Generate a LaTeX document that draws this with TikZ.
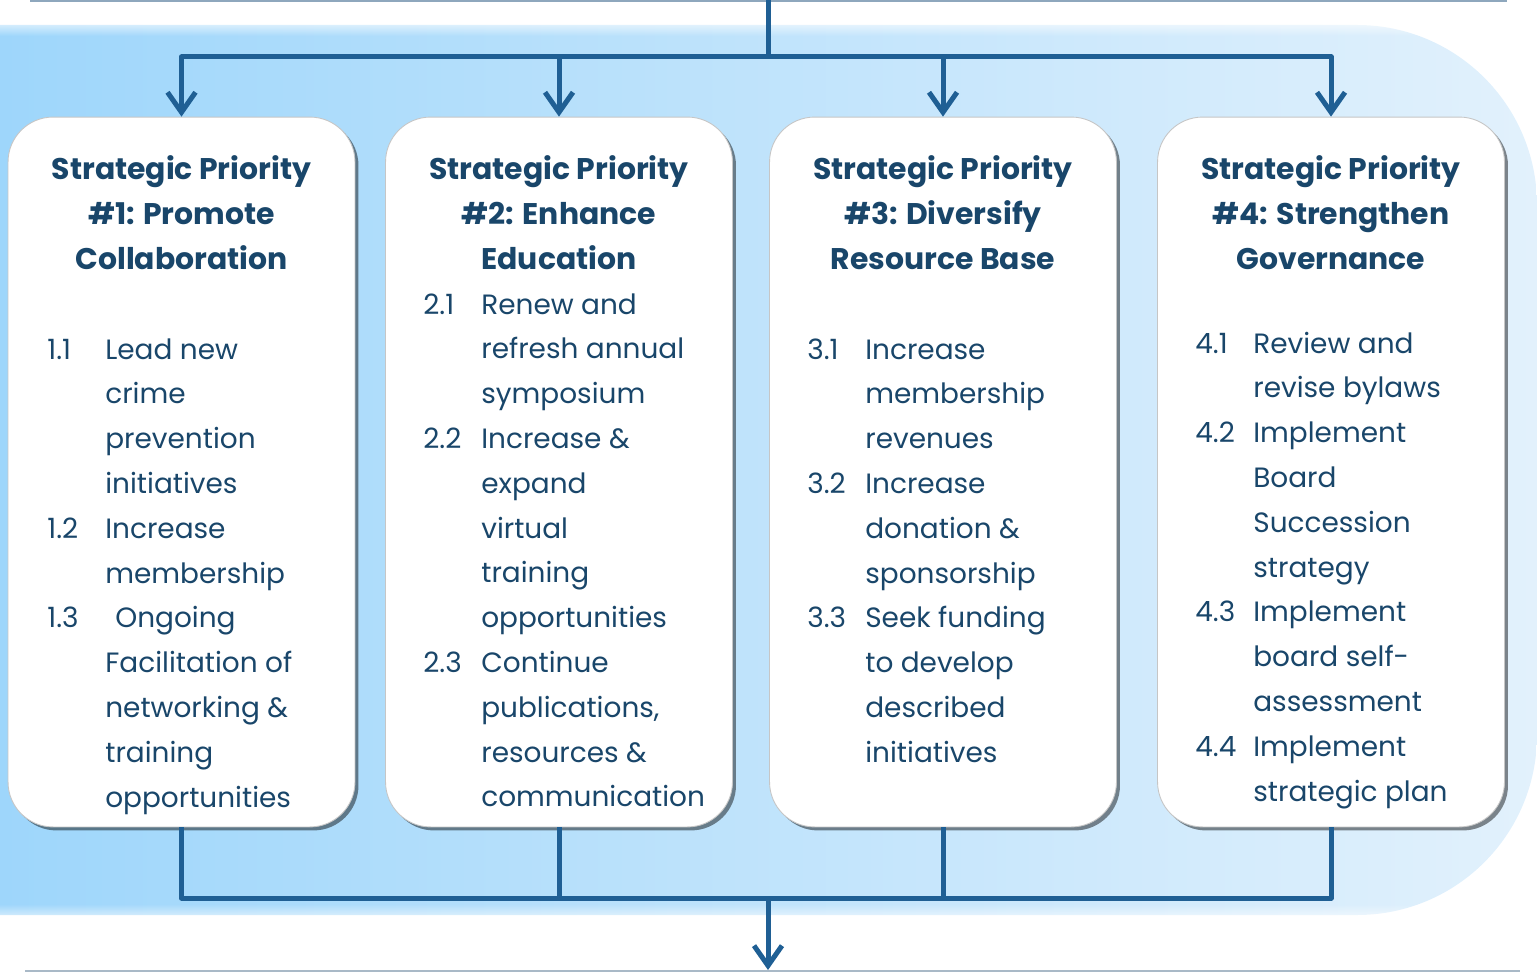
\documentclass[tikz,border=0pt]{standalone}
\usepackage{fontspec}
\setmainfont{Poppins}
\usetikzlibrary{arrows.meta,shadows,fadings}

\definecolor{linkblue}{HTML}{1F5F94}
\definecolor{inkblue}{HTML}{19466A}
\definecolor{bgleft}{HTML}{9ED6FB}
\definecolor{bgright}{HTML}{E2F1FC}
\definecolor{rulegray}{HTML}{A9B9C7}

\tikzset{
  priobox/.style={fill=white, draw=gray!45, line width=0.5pt,
    rounded corners=0.9cm, minimum width=6.94cm, minimum height=14.2cm,
    drop shadow={shadow xshift=0.07cm, shadow yshift=-0.07cm, opacity=0.45, fill=black}},
  headtext/.style={anchor=base, inner sep=0pt, text=inkblue,
    font=\fontsize{17pt}{25.5pt}\selectfont\bfseries},
  itemtext/.style={anchor=base west, inner sep=0pt, text=inkblue,
    font=\fontsize{15.9pt}{25.5pt}\selectfont},
  link/.style={draw=linkblue, line width=0.1cm, line join=round},
  arr/.style={link, -{Straight Barb[length=0.4cm, width=0.56cm]}}
}

\begin{document}
\begin{tikzpicture}[x=0.02cm, y=-0.02cm]
\useasboundingbox (0,0) rectangle (1537,973);

% backdrop
\begin{scope}
  \clip[rounded corners=3.6cm] (-300,25) rectangle (1537,915);
  \shade[left color=bgleft, right color=bgright] (0,25) rectangle (1537,915);
\end{scope}
\fill[white, path fading=south] (0,16) rectangle (1537,36);
\fill[white, path fading=north] (0,904) rectangle (1537,926);
\draw[rulegray!80!linkblue, line width=0.04cm] (30,1) -- (1507,1);
\draw[rulegray, line width=0.04cm] (25,971) -- (1520,971);

% connectors
\coordinate (in) at (768,0);
\coordinate (hub) at (768,57);
\coordinate (join) at (768,898);
\coordinate (out) at (768,970);

\node[priobox] (b1) at (181.5,472) {};
\node[priobox] (b2) at (559,472) {};
\node[priobox] (b3) at (943,472) {};
\node[priobox] (b4) at (1331,472) {};

\draw[link] (in) -- (hub);
\foreach \b in {b1,b2,b3,b4} {
  \draw[arr] (hub) -| (\b.north);
  \draw[link] (\b.south) |- (join);
}
\draw[arr] (join) -- (out);

% priority 1
\node[headtext] (h1) at (181.5,180) {\begin{tabular}[t]{@{}c@{}}Strategic Priority\\ \#1: Promote\\ Collaboration\end{tabular}};
\node[itemtext] (l1) at (47,359) {\begin{tabular}[t]{@{}p{1.16cm}@{}l@{}}
1.1 & Lead new\\ & crime\\ & prevention\\ & initiatives\\
1.2 & Increase\\ & membership\\
1.3 & \hspace{0.2cm}Ongoing\\ & Facilitation of\\ & networking \&\\ & training\\ & opportunities
\end{tabular}};

% priority 2
\node[headtext] (h2) at (559,180) {\begin{tabular}[t]{@{}c@{}}Strategic Priority\\ \#2: Enhance\\ Education\end{tabular}};
\node[itemtext] (l2) at (423,314) {\begin{tabular}[t]{@{}p{1.16cm}@{}l@{}}
2.1 & Renew and\\ & refresh annual\\ & symposium\\
2.2 & Increase \&\\ & expand\\ & virtual\\ & training\\ & opportunities\\
2.3 & Continue\\ & publications,\\ & resources \&\\ & communication
\end{tabular}};

% priority 3
\node[headtext] (h3) at (943,180) {\begin{tabular}[t]{@{}c@{}}Strategic Priority\\ \#3: Diversify\\ Resource Base\end{tabular}};
\node[itemtext] (l3) at (807,359) {\begin{tabular}[t]{@{}p{1.16cm}@{}l@{}}
3.1 & Increase\\ & membership\\ & revenues\\
3.2 & Increase\\ & donation \&\\ & sponsorship\\
3.3 & Seek funding\\ & to develop\\ & described\\ & initiatives
\end{tabular}};

% priority 4
\node[headtext] (h4) at (1331,180) {\begin{tabular}[t]{@{}c@{}}Strategic Priority\\ \#4: Strengthen\\ Governance\end{tabular}};
\node[itemtext] (l4) at (1195,353) {\begin{tabular}[t]{@{}p{1.16cm}@{}l@{}}
4.1 & Review and\\ & revise bylaws\\
4.2 & Implement\\ & Board\\ & Succession\\ & strategy\\
4.3 & Implement\\ & board self-\\ & assessment\\
4.4 & Implement\\ & strategic plan
\end{tabular}};

\end{tikzpicture}
\end{document}
